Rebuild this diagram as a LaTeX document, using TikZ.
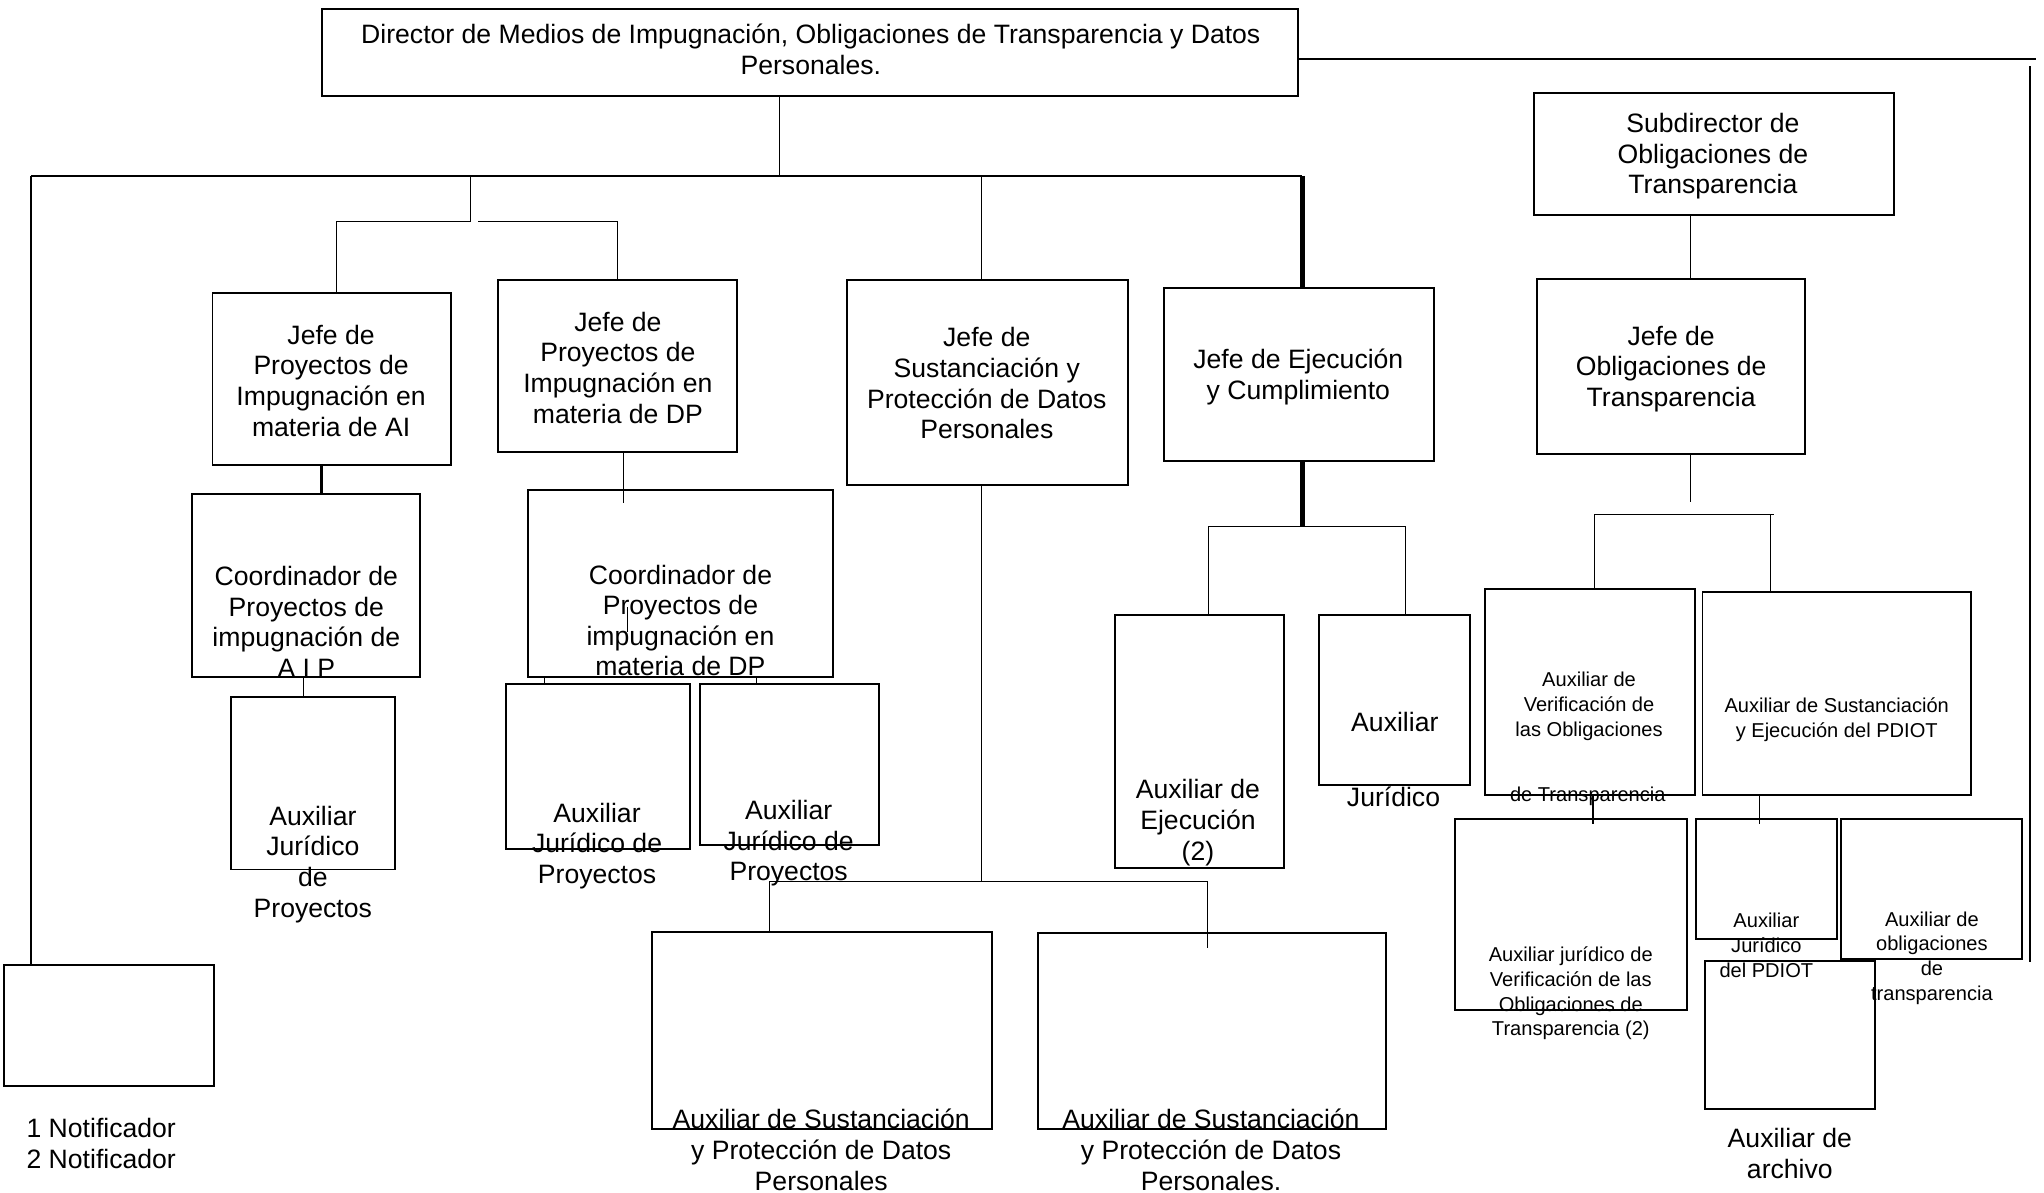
\documentclass[tikz,border=0pt]{standalone}
\usepackage{fontspec}
\setmainfont{Liberation Sans}
\usetikzlibrary{fit,positioning}
\tikzset{%
	box/.style      = {draw, rectangle, inner sep=0pt, line width=0.75pt},
	txt/.style      = {align=center, inner sep=0pt, font=\fontsize{10.2}{11.75}\selectfont},
	smalltxt/.style = {align=center, inner sep=0pt, font=\fontsize{7.7}{9.5}\selectfont},
	link/.style     = {line width=0.4pt},
	bus/.style      = {line width=0.75pt},
	midline/.style  = {line width=1.15pt},
	trunk/.style    = {line width=1.9pt},
}

\begin{document}
\begin{tikzpicture}[x=0.5pt,y=-0.5pt]
	\useasboundingbox (0,0) rectangle (1568,915);
	% boxes
	\node[box, fit={(247,7) (996,74)}] (dir) {};
	\node[box, fit={(3,740) (164,833)}] (notif) {};
	\node[box, fit={(163,225) (346,357)}] (jefeAI) {};
	\node[box, fit={(382,215) (565,347)}] (jefeDP) {};
	\node[box, fit={(650,215) (865,372)}] (jefeSust) {};
	\node[box, fit={(893,221) (1100,354)}] (jefeEjec) {};
	\node[box, fit={(1177,71) (1453,165)}] (subdir) {};
	\node[box, fit={(1179,214) (1385,348)}] (jefeObl) {};
	\node[box, fit={(147,379) (322,519)}] (coordAIP) {};
	\node[box, fit={(405,376) (639,519)}] (coordDP) {};
	\node[box, fit={(177,535) (303,667)}] (auxAIP) {};
	\node[box, fit={(388,525) (529,651)}] (auxDPa) {};
	\node[box, fit={(537,525) (674,648)}] (auxDPb) {};
	\node[box, fit={(500,715) (761,866)}] (auxSusta) {};
	\node[box, fit={(796,716) (1063,866)}] (auxSustb) {};
	\node[box, fit={(855,472) (985,666)}] (auxEjec) {};
	\node[box, fit={(1012,472) (1128,602)}] (auxJur) {};
	\node[box, fit={(1139,452) (1300,610)}] (auxVerif) {};
	\node[box, fit={(1306,454) (1512,610)}] (auxPDIOT) {};
	\node[box, fit={(1116,628) (1294,775)}] (auxJurVerif) {};
	\node[box, fit={(1301,628) (1409,720)}] (auxJurPDIOT) {};
	\node[box, fit={(1412,628) (1551,736)}] (auxObl) {};
	\node[box, fit={(1308,737) (1438,851)}] (auxArch) {};

	% texts
	\node[txt] (dirT) at (622,38) {Director de Medios de Impugnación, Obligaciones de Transparencia y Datos\\Personales.};
	\node[txt, align=left, anchor=west] (notifT) at (20,877) {1 Notificador\\2 Notificador};
	\node[txt] (jefeAIT) at (254,292) {Jefe de\\Proyectos de\\Impugnación en\\materia de AI};
	\node[txt] (jefeDPT) at (474,282) {Jefe de\\Proyectos de\\Impugnación en\\materia de DP};
	\node[txt] (jefeSustT) at (757,294) {Jefe de\\Sustanciación y\\Protección de Datos\\Personales};
	\node[txt] (jefeEjecT) at (996,289) {Jefe de Ejecución\\y Cumplimiento};
	\node[txt] (subdirT) at (1314,120) {Subdirector de\\Obligaciones de\\Transparencia};
	\node[txt] (jefeOblT) at (1282,283) {Jefe de\\Obligaciones de\\Transparencia};
	\node[txt] (coordAIPT) at (235,477) {Coordinador de\\Proyectos de\\impugnación de\\A I P};
	\node[txt] (coordDPT) at (522,476) {Coordinador de\\Proyectos de\\impugnación en\\materia de DP};
	\node[txt] (auxAIPT) at (240,663) {Auxiliar\\Jurídico\\de\\Proyectos};
	\node[txt] (auxDPaT) at (458,649) {Auxiliar\\Jurídico de\\Proyectos};
	\node[txt] (auxDPbT) at (605,647) {Auxiliar\\Jurídico de\\Proyectos};
	\node[txt] (auxSustaT) at (630,882) {Auxiliar de Sustanciación\\y Protección de Datos\\Personales};
	\node[txt] (auxSustbT) at (929,882) {Auxiliar de Sustanciación\\y Protección de Datos\\Personales.};
	\node[txt] (auxEjecT) at (919,631) {Auxiliar de\\Ejecución\\(2)};
	\node[txt] (auxJurT) at (1070,554) {Auxiliar};
	\node[txt] (auxJurU) at (1069,611) {Jurídico};
	\node[smalltxt] (auxVerifT) at (1219,542) {Auxiliar de\\Verificación de\\las Obligaciones};
	\node[smalltxt] (auxVerifU) at (1218,611) {de Transparencia};
	\node[smalltxt] (auxPDIOTT) at (1409,552) {Auxiliar de Sustanciación\\y Ejecución del PDIOT};
	\node[smalltxt] (auxJurVerifT) at (1205,762) {Auxiliar jurídico de\\Verificación de las\\Obligaciones de\\Transparencia (2)};
	\node[smalltxt] (auxJurPDIOTT) at (1355,725) {Auxiliar\\Jurídico\\del PDIOT};
	\node[smalltxt] (auxOblT) at (1482,735) {Auxiliar de\\obligaciones\\de\\transparencia};
	\node[txt] (auxArchT) at (1373,885) {Auxiliar de\\archivo};

	% junctions
	\coordinate (busW) at (24,135);
	\coordinate (busE) at (999,135);
	\coordinate (dirJ) at (598,135);
	\coordinate (forkA) at (361,170);
	\coordinate (forkB) at (367,170);
	\coordinate (sustJ) at (753,676);
	\coordinate (sustEnd) at (926,727);
	\coordinate (ejecJ) at (999,404);
	\coordinate (dpEnd) at (478,386);
	\coordinate (oblStub) at (1297,385);
	\coordinate (oblR) at (1361,395);
	\coordinate (oblD) at (1358,395);
	\coordinate (verifEnd) at (1222,632);
	\coordinate (pdiotEnd) at (1350,632);
	\coordinate (rightE) at (1562,45);
	\coordinate (rightT) at (1557,51);
	\coordinate (rightB) at (1557,738);
	\coordinate (tickT) at (481,466);
	\coordinate (tickB) at (481,485);

	% connectors
	\draw[link] (dir.south -| dirJ) -- (dirJ);
	\draw[bus] (busW) -- (busE);
	\draw[bus] (busW) -- (notif.north -| busW);
	\draw[link] (forkA |- busW) -- (forkA) -| (jefeAI.north -| 258,0);
	\draw[link] (forkB) -| (jefeDP.north -| 474,0);
	\draw[link] (sustJ |- busW) -- (sustJ |- jefeSust.north);
	\draw[trunk] (busE) -- (jefeEjec.north -| busE);
	\draw[midline] (jefeAI.south -| 247,0) -- (coordAIP.north -| 247,0);
	\draw[link] (coordAIP.south -| 233,0) -- (auxAIP.north -| 233,0);
	\draw[link] (jefeDP.south -| dpEnd) -- (dpEnd);
	\draw[link] (tickT) -- (tickB);
	\draw[link] (coordDP.south -| 418,0) -- (auxDPa.north -| 418,0);
	\draw[link] (coordDP.south -| 580,0) -- (auxDPb.north -| 580,0);
	\draw[link] (jefeSust.south -| sustJ) -- (sustJ);
	\draw[link] (auxSusta.north -| 590,0) |- (sustJ) -| (sustEnd);
	\draw[trunk] (jefeEjec.south -| ejecJ) -- (ejecJ);
	\draw[link] (auxEjec.north -| 927,0) |- (ejecJ) -| (auxJur.north -| 1078,0);
	\draw[link] (subdir.south -| oblStub) -- (jefeObl.north -| oblStub);
	\draw[link] (jefeObl.south -| oblStub) -- (oblStub);
	\draw[link] (auxVerif.north -| 1223,0) |- (oblR);
	\draw[link] (oblD) -- (auxPDIOT.north -| oblD);
	\draw[link] (auxVerif.south -| verifEnd) -- (verifEnd);
	\draw[link] (auxPDIOT.south -| pdiotEnd) -- (pdiotEnd);
	\draw[bus] (dir.east |- rightE) -- (rightE);
	\draw[bus] (rightT) -- (rightB);
\end{tikzpicture}
\end{document}
